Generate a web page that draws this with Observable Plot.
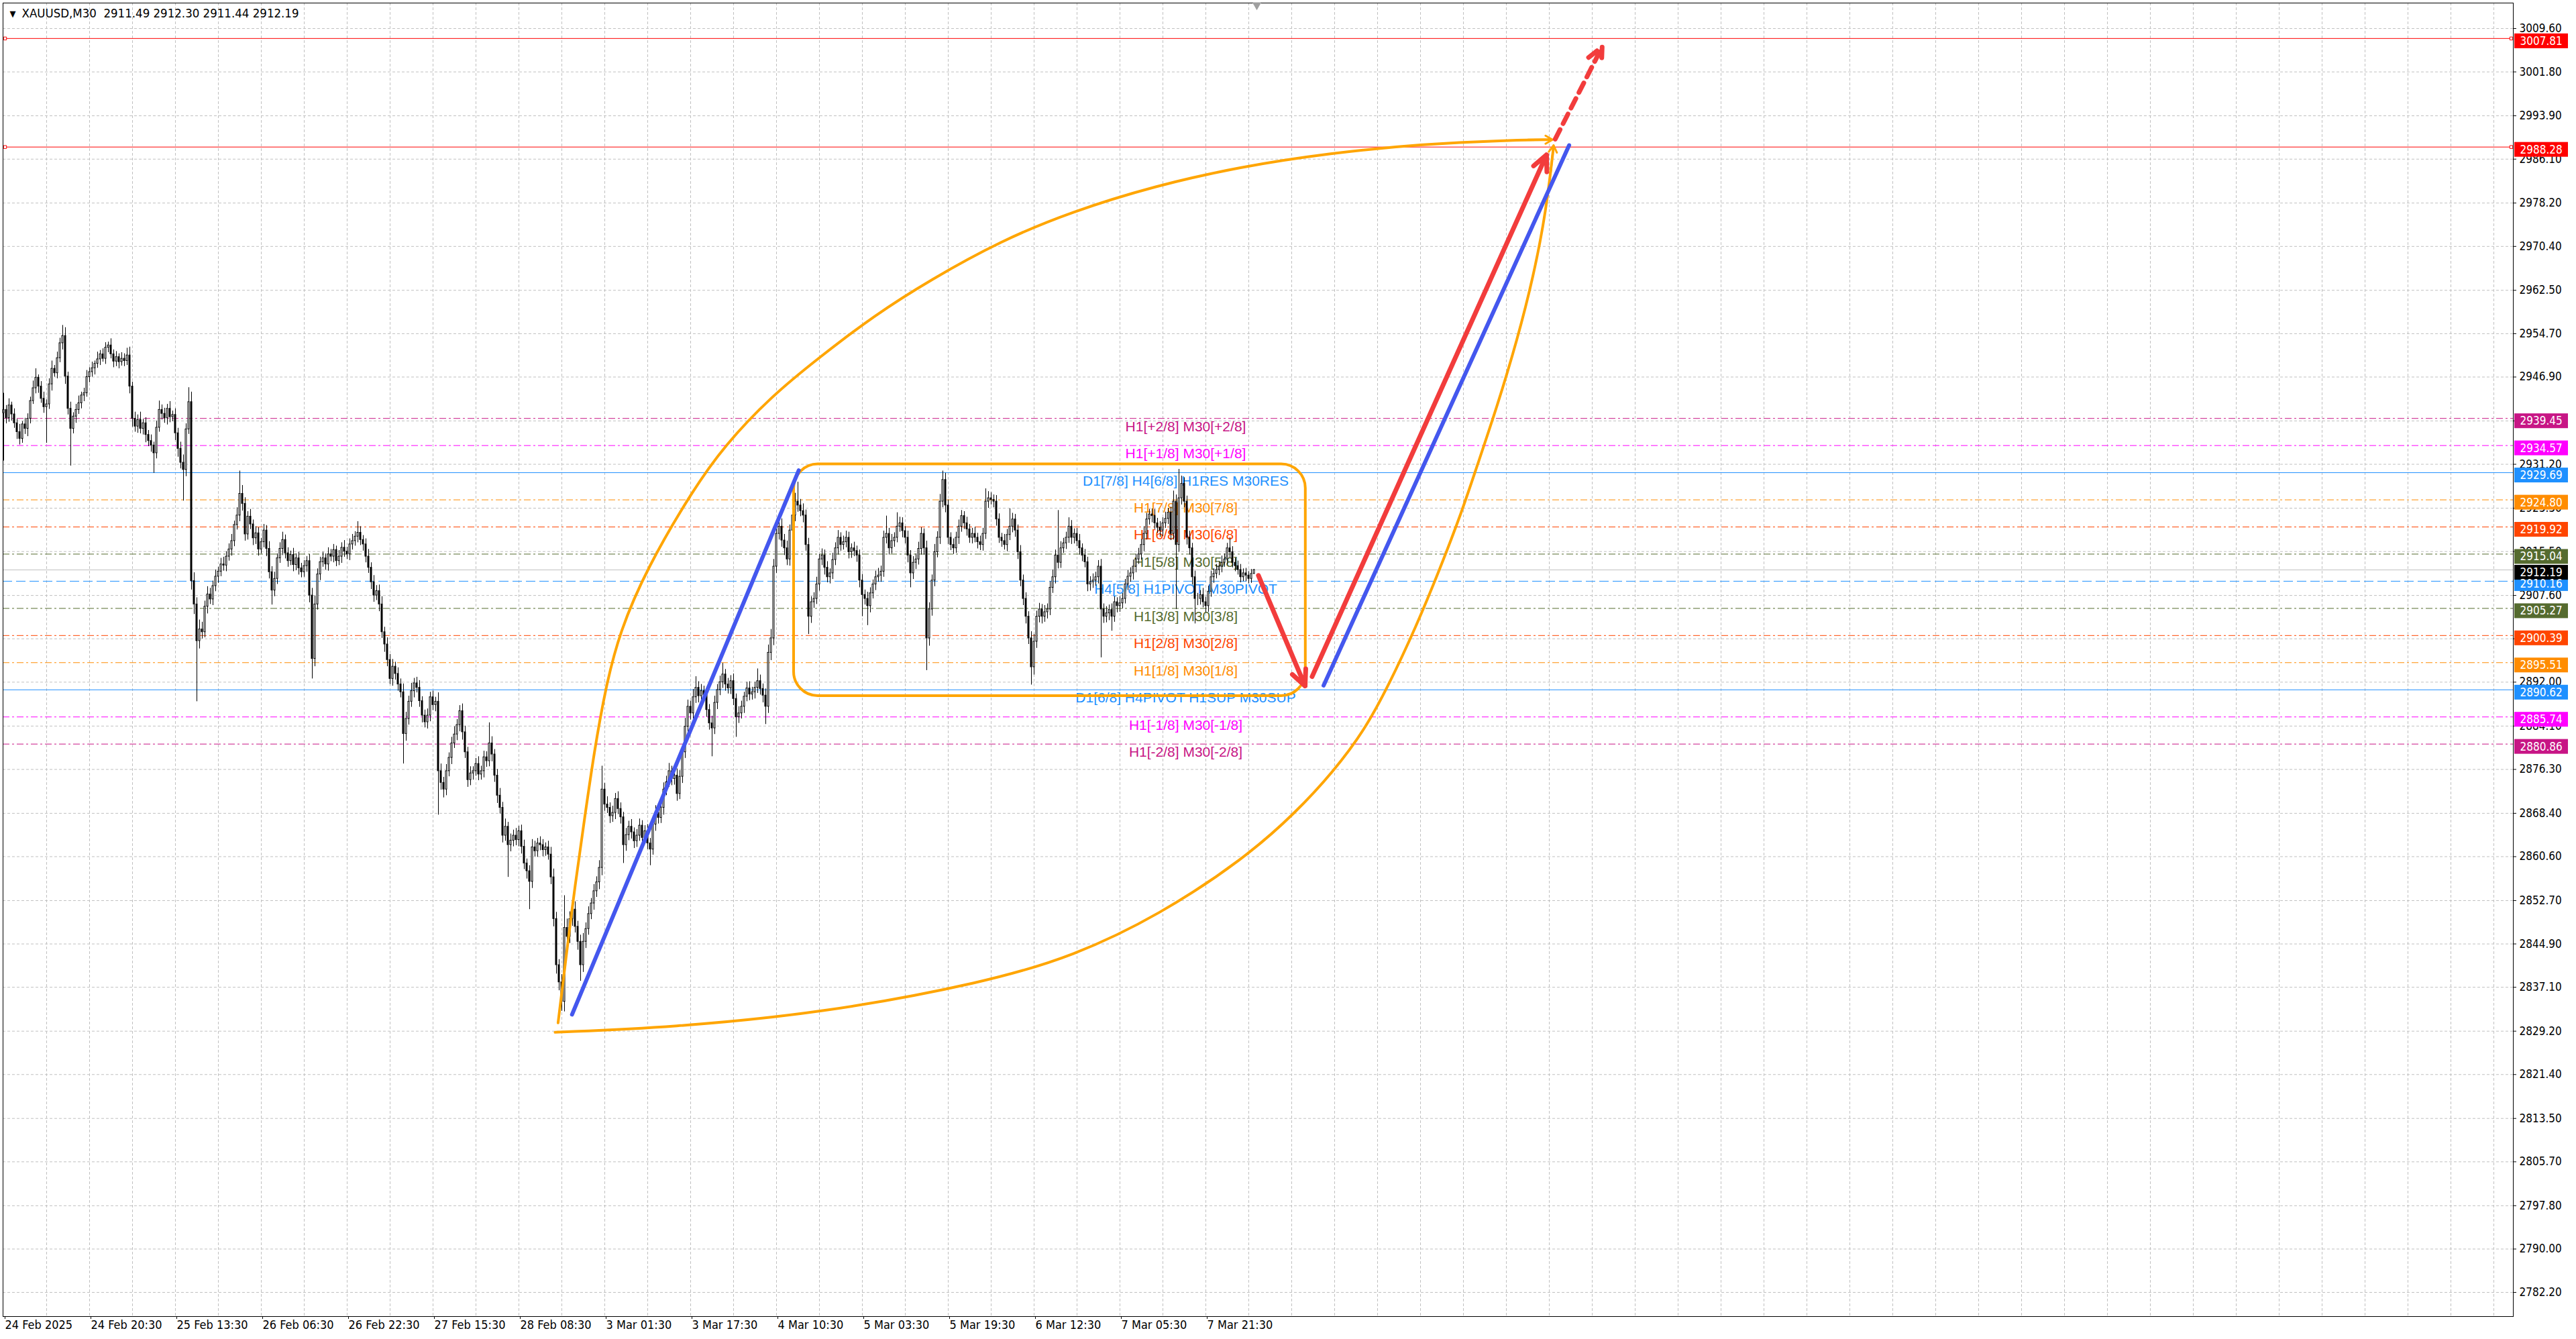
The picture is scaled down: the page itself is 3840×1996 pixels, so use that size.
<!DOCTYPE html>
<html><head><meta charset="utf-8">
<script src="https://cdn.jsdelivr.net/npm/d3@7"></script>
<script src="https://cdn.jsdelivr.net/npm/@observablehq/plot@0.6"></script>
<style>html,body{margin:0;padding:0;background:#fff;overflow:hidden}svg{display:block}</style>
</head><body><div id="chart"></div>
<script>
// ---------- header ----------
const headerSymbol = "XAUUSD,M30";
const headerOHLC = ["2911.49", "2912.30", "2911.44", "2912.19"];

// ---------- candles (M30 bars, index 0 = 24 Feb 2025) ----------
const firstOpen = 2940.4;
const closes = [
2941.0,2939.5,2941.8,2940.2,2938.6,2937.0,2935.8,2938.4,2937.6,2939.4,
2942.6,2944.9,2946.8,2945.2,2943.0,2941.5,2942.0,2945.6,2948.4,2947.6,
2950.3,2953.0,2954.3,2947.0,2941.2,2937.6,2939.8,2941.0,2942.2,2943.6,
2944.0,2946.9,2947.8,2948.5,2949.3,2950.1,2951.0,2950.2,2952.2,2952.6,
2951.0,2949.7,2950.5,2949.6,2950.2,2949.8,2950.8,2945.2,2939.4,2938.0,
2939.2,2937.6,2938.6,2936.5,2935.4,2934.6,2933.2,2937.8,2941.0,2940.3,
2939.5,2941.2,2939.7,2940.1,2936.8,2934.0,2931.5,2930.2,2937.5,2942.4,
2910.2,2906.0,2899.4,2901.5,2901.0,2905.6,2907.8,2906.9,2909.3,2911.0,
2911.9,2913.2,2913.0,2914.6,2915.9,2917.4,2920.3,2922.0,2925.9,2924.1,
2918.6,2921.8,2920.4,2917.9,2918.8,2915.9,2917.2,2919.3,2916.0,2911.8,
2908.5,2910.6,2914.3,2916.0,2917.6,2915.2,2913.8,2914.9,2913.1,2914.3,
2912.5,2911.8,2912.9,2913.8,2907.6,2896.2,2906.0,2911.4,2913.6,2914.3,
2913.2,2915.0,2914.6,2915.8,2913.8,2914.6,2916.2,2915.5,2915.0,2916.8,
2917.4,2918.2,2918.9,2917.6,2916.8,2914.6,2912.6,2910.0,2907.6,2908.4,
2906.0,2901.0,2898.8,2896.0,2892.6,2894.8,2893.5,2891.6,2890.2,2882.7,
2885.4,2888.5,2890.4,2891.8,2891.0,2888.6,2886.0,2884.8,2886.0,2889.3,
2887.9,2888.5,2876.0,2873.9,2872.7,2876.0,2878.4,2881.0,2882.6,2884.3,
2886.8,2883.0,2879.4,2874.4,2875.6,2876.0,2877.3,2875.4,2876.0,2878.5,
2877.8,2881.0,2879.0,2875.2,2871.6,2869.4,2864.4,2866.0,2862.7,2863.5,
2864.4,2863.6,2865.2,2862.4,2859.4,2858.0,2856.1,2862.3,2861.6,2863.0,
2862.7,2861.8,2862.3,2861.0,2856.9,2849.4,2841.1,2838.0,2834.5,2847.8,
2846.2,2849.4,2851.1,2848.0,2845.3,2841.1,2845.3,2847.6,2850.3,2852.2,
2854.4,2856.0,2858.6,2872.7,2870.0,2869.4,2867.9,2868.5,2871.0,2869.2,
2867.7,2862.7,2864.5,2866.0,2865.0,2863.4,2864.4,2866.2,2864.0,2865.2,
2863.0,2861.9,2866.4,2868.5,2867.6,2869.4,2872.7,2874.0,2876.0,2874.6,
2875.2,2871.9,2875.0,2879.4,2884.0,2887.6,2886.4,2889.3,2891.0,2889.5,
2890.4,2889.7,2887.0,2884.6,2883.7,2888.3,2890.6,2892.0,2893.4,2891.6,
2890.9,2892.2,2889.0,2885.7,2886.4,2887.6,2889.4,2890.9,2889.8,2890.2,
2891.0,2892.2,2890.8,2889.6,2887.6,2897.3,2899.9,2912.8,2918.7,2920.0,
2917.5,2916.1,2914.1,2919.3,2922.0,2924.5,2923.8,2922.8,2922.0,2916.7,
2903.8,2906.4,2907.0,2909.6,2914.1,2914.8,2912.6,2910.9,2911.6,2914.0,
2916.1,2918.0,2916.7,2917.2,2918.0,2915.4,2916.1,2915.6,2914.8,2910.3,
2907.7,2907.0,2905.7,2908.0,2909.6,2910.9,2911.2,2911.9,2918.0,2918.7,
2916.1,2917.4,2918.0,2920.0,2920.6,2919.2,2918.0,2914.8,2911.6,2913.5,
2914.1,2916.0,2918.7,2916.1,2899.9,2905.1,2910.3,2915.4,2918.0,2924.5,
2928.4,2923.8,2918.0,2916.7,2916.1,2918.0,2920.0,2921.9,2920.6,2919.5,
2918.0,2918.7,2918.0,2917.2,2916.7,2918.7,2924.5,2925.1,2924.8,2924.5,
2921.3,2918.0,2917.4,2916.7,2918.5,2920.0,2921.3,2919.3,2915.4,2910.3,
2907.0,2903.8,2899.9,2894.7,2899.3,2903.8,2905.1,2903.8,2904.6,2905.1,
2909.0,2910.9,2914.8,2913.5,2916.1,2917.0,2918.0,2920.0,2918.0,2918.7,
2917.4,2916.1,2914.8,2913.6,2909.6,2910.0,2910.3,2910.9,2912.8,2905.1,
2903.8,2904.4,2905.0,2903.8,2906.4,2905.7,2906.2,2907.0,2909.6,2911.0,
2911.6,2912.8,2914.1,2915.0,2916.7,2918.7,2921.3,2922.2,2921.9,2920.6,
2919.8,2919.3,2920.6,2921.4,2922.5,2918.7,2924.5,2916.7,2925.1,2927.7,
2924.5,2918.0,2916.1,2910.9,2907.0,2907.0,2907.7,2906.4,2905.7,2908.3,
2910.9,2911.5,2912.2,2912.8,2913.5,2914.1,2916.1,2915.4,2913.5,2912.9,
2912.2,2910.9,2911.6,2911.2,2910.6,2911.49,2912.19
];
const upperWicks = [
3.0,0.8,1.2,0.6,1.0,0.7,1.4,0.5,1.1,0.9,
0.7,1.3,1.6,0.5,0.9,1.2,0.8,1.0,1.4,0.6,
1.1,0.9,1.9,1.5,0.8,1.2,0.7,1.0,1.3,0.6,
0.9,1.2,0.8,1.1,0.5,1.3,0.7,1.0,0.9,0.6,
1.2,0.8,1.0,0.6,1.1,0.9,1.3,1.5,0.8,1.2,
0.9,1.4,0.7,1.0,0.8,1.1,0.6,1.2,1.6,0.9,
1.0,0.8,1.3,0.7,1.1,0.9,1.2,1.4,1.0,2.6,
1.8,1.5,1.2,1.7,1.3,1.0,1.4,1.1,0.9,1.2,
0.8,1.1,1.3,0.9,1.0,1.2,0.7,1.4,4.1,1.5,
1.1,0.9,1.3,0.8,1.2,1.0,0.7,1.1,0.9,1.3,
1.0,1.2,0.8,1.1,1.4,0.9,1.0,0.7,1.2,0.8,
1.1,0.9,1.0,0.8,1.2,1.3,1.5,1.0,0.9,1.1,
0.8,1.2,0.9,1.0,0.7,1.1,0.9,1.3,0.8,1.0,
1.2,0.9,2.0,1.1,0.8,1.0,1.3,0.9,1.2,1.0,
1.1,1.4,0.9,1.2,1.0,1.3,0.8,1.1,1.0,1.5,
1.2,1.0,1.4,0.9,1.1,1.3,0.8,1.0,1.2,0.9,
1.1,0.8,1.6,1.3,1.0,1.2,0.9,1.1,1.4,1.0,
1.0,1.3,1.1,0.9,1.2,0.8,1.0,1.3,0.9,1.1,
1.0,3.7,1.2,0.9,1.1,1.3,1.0,1.4,0.8,1.2,
1.0,1.3,0.9,1.1,1.2,0.8,1.0,1.4,1.1,0.9,
1.2,1.0,0.8,1.1,1.3,1.5,1.2,1.0,1.4,5.8,
1.6,1.3,1.1,1.4,1.0,1.2,1.5,1.1,1.3,0.9,
1.2,1.0,1.3,4.2,1.1,1.4,0.9,1.2,1.0,1.3,
1.1,0.9,1.2,1.0,1.3,0.8,1.1,1.2,0.9,1.0,
1.2,0.9,1.1,1.3,1.0,0.8,1.2,1.1,1.4,0.9,
1.0,1.2,1.1,1.3,1.5,1.2,1.0,1.4,2.0,1.1,
1.2,0.9,1.1,1.0,1.3,1.2,1.0,1.1,2.0,0.9,
1.1,1.0,1.3,0.9,1.2,1.0,0.8,1.1,1.2,0.9,
1.0,2.2,1.1,0.9,1.2,1.4,1.6,1.3,1.5,1.2,
1.4,1.1,1.3,1.0,1.2,1.5,3.5,1.1,1.3,1.0,
1.2,1.0,1.1,1.3,0.9,1.2,1.0,1.1,0.8,1.2,
1.0,1.3,0.9,1.1,1.2,1.0,0.8,1.1,0.9,1.0,
1.1,0.9,1.2,1.0,0.8,1.1,1.3,1.0,1.2,3.2,
1.0,1.2,0.9,2.5,1.1,1.0,0.8,1.2,0.9,1.1,
1.0,1.2,1.1,0.9,1.3,1.2,1.0,1.4,1.1,1.3,
1.6,1.2,1.0,0.9,1.1,1.0,1.2,1.0,0.8,1.1,
0.9,1.0,1.2,0.8,1.1,1.0,2.3,1.2,1.0,0.9,
1.1,1.0,0.8,1.2,1.0,3.2,1.1,0.9,1.0,1.2,
1.0,1.1,0.9,1.2,1.3,1.0,1.1,0.9,1.2,1.0,
1.1,1.3,1.0,8.1,1.2,0.9,1.0,1.6,1.1,0.9,
1.0,1.2,0.8,1.1,0.9,1.0,1.2,0.9,1.1,1.3,
1.0,1.2,0.9,1.1,1.0,0.8,1.2,1.0,0.9,1.1,
1.0,1.2,0.9,1.1,1.0,1.3,1.1,0.9,1.0,1.2,
0.9,1.1,1.0,1.2,0.8,1.0,1.9,1.2,5.2,1.4,
1.1,1.0,1.2,0.9,1.1,1.0,0.8,1.2,0.9,1.0,
1.1,0.9,1.0,0.8,1.2,1.0,0.9,1.9,1.0,0.8,
0.9,1.0,0.8,0.9,0.7,0.8,0.11
];
const lowerWicks = [
8.6,1.0,0.7,1.2,0.9,1.3,1.1,0.8,1.0,1.4,
0.9,0.6,1.0,1.2,0.8,1.1,6.5,0.9,1.2,0.7,
1.0,0.8,1.2,1.4,1.1,6.7,0.9,1.2,0.8,1.0,
1.1,0.7,1.0,0.9,1.2,0.8,1.1,0.6,1.0,0.9,
0.8,1.1,0.9,1.2,0.7,1.0,0.8,1.3,1.5,1.0,
1.2,0.9,1.1,1.4,1.0,1.2,3.6,1.0,0.8,1.1,
0.9,1.2,1.0,0.8,1.3,1.5,1.1,5.6,1.2,0.9,
1.6,1.8,10.9,1.4,1.2,1.0,1.3,0.9,1.1,1.0,
1.2,0.9,1.0,1.1,0.8,1.2,1.0,0.9,1.1,1.3,
1.2,1.0,0.9,1.3,1.1,1.2,0.8,1.0,1.4,1.2,
2.6,1.1,1.0,0.9,1.2,1.0,1.1,0.8,1.2,1.0,
1.2,1.0,0.9,1.1,1.3,3.6,1.4,1.0,1.1,0.9,
1.0,1.2,0.9,1.1,1.0,0.8,1.2,1.0,0.9,1.1,
1.0,0.9,1.1,1.0,1.2,1.1,1.0,1.3,1.2,0.9,
1.3,1.1,1.4,1.2,1.0,1.3,1.1,1.2,1.0,5.4,
1.3,1.1,1.0,1.2,0.9,1.1,1.3,1.0,1.2,1.1,
1.0,1.2,7.9,1.3,1.5,1.1,1.0,1.2,0.9,1.1,
1.2,1.4,1.1,1.3,1.0,1.2,0.9,1.1,1.0,1.2,
1.1,1.0,1.3,1.2,1.4,1.1,1.3,1.0,5.8,1.2,
1.1,1.0,1.2,1.3,1.1,1.4,5.0,1.2,1.0,1.1,
1.0,1.2,1.1,1.0,1.3,1.4,1.6,1.5,1.7,1.8,
1.4,1.2,1.3,1.1,1.5,2.9,1.3,1.2,1.1,1.0,
1.2,1.1,1.3,1.4,1.2,1.0,1.3,1.1,1.2,1.0,
1.2,3.3,1.1,1.0,1.2,1.3,1.1,1.0,1.2,0.9,
1.1,2.9,1.0,1.2,1.1,1.0,1.3,1.1,0.9,1.2,
1.1,1.3,1.0,1.2,1.1,1.3,1.2,1.0,1.1,1.2,
1.1,1.0,1.3,1.2,5.1,1.1,1.2,1.0,1.1,1.2,
1.0,1.1,1.2,3.6,1.1,1.0,1.2,0.9,1.1,1.0,
1.2,1.0,1.1,1.3,3.2,1.2,1.4,1.3,1.2,1.1,
1.2,1.3,1.1,1.2,1.0,1.1,1.2,1.0,1.3,1.1,
3.2,1.2,1.1,1.0,1.2,1.1,1.3,1.0,1.2,1.1,
1.0,1.2,1.1,0.9,1.0,1.2,1.1,1.0,1.2,1.3,
3.9,1.1,3.5,1.2,1.0,1.1,0.9,1.2,1.0,1.1,
1.2,1.0,1.1,0.9,1.0,1.2,1.1,1.3,2.6,1.1,
1.2,1.0,1.1,1.2,5.8,1.4,1.2,1.1,1.0,1.2,
1.1,1.3,1.2,1.0,1.1,0.9,1.2,1.0,1.1,1.2,
1.0,1.1,0.9,1.2,1.0,1.1,1.0,1.2,0.9,1.1,
1.2,1.0,1.1,0.9,1.2,1.0,1.1,1.2,1.3,1.1,
1.2,1.3,1.1,3.2,1.4,1.2,1.1,1.3,1.0,1.2,
1.1,1.0,1.2,1.1,1.0,0.9,1.1,1.0,1.2,1.1,
1.0,1.2,1.1,1.0,1.3,1.2,1.1,1.0,1.2,8.7,
1.2,1.1,1.3,2.6,1.0,1.2,1.1,1.0,0.9,1.1,
1.0,1.2,1.1,0.9,1.0,1.2,1.1,1.0,1.2,1.1,
1.0,1.2,1.1,0.9,1.0,1.2,1.1,11.6,1.3,1.2,
1.1,1.3,1.2,1.4,4.5,1.2,1.1,1.0,1.2,1.1,
1.0,1.1,0.9,1.0,1.1,0.8,1.0,1.1,0.9,1.0,
0.9,1.0,0.8,1.1,0.9,0.8,0.05
];

// ---------- axes ----------
const xTickBars = [0,32,64,96,128,160,192,224,256,288,320,352,384,416,448];
const xTickLabels = ["24 Feb 2025","24 Feb 20:30","25 Feb 13:30","26 Feb 06:30","26 Feb 22:30","27 Feb 15:30","28 Feb 08:30","3 Mar 01:30","3 Mar 17:30","4 Mar 10:30","5 Mar 03:30","5 Mar 19:30","6 Mar 12:30","7 Mar 05:30","7 Mar 21:30"];
const yTicks = [3009.6,3001.8,2993.9,2986.1,2978.2,2970.4,2962.5,2954.7,2946.9,2939.0,2931.2,2923.3,2915.5,2907.6,2899.8,2892.0,2884.1,2876.3,2868.4,2860.6,2852.7,2844.9,2837.1,2829.2,2821.4,2813.5,2805.7,2797.8,2790.0,2782.2];

// ---------- horizontal levels ----------
const levelPrices = [3007.81,2988.28,2939.45,2934.57,2929.69,2924.80,2919.92,2915.04,2910.16,2905.27,2900.39,2895.51,2890.62,2885.74,2880.86];
const levelLabels = ["","","H1[+2/8] M30[+2/8]","H1[+1/8] M30[+1/8]","D1[7/8] H4[6/8] H1RES M30RES","H1[7/8] M30[7/8]","H1[6/8] M30[6/8]","H1[5/8] M30[5/8]","H4[5/8] H1PIVOT M30PIVOT","H1[3/8] M30[3/8]","H1[2/8] M30[2/8]","H1[1/8] M30[1/8]","D1[6/8] H4PIVOT H1SUP M30SUP","H1[-1/8] M30[-1/8]","H1[-2/8] M30[-2/8]"];
const levelColors = ["#FF0000","#FF0000","#C71585","#FF00FF","#1E90FF","#FF8C00","#FF4500","#556B2F","#1E90FF","#556B2F","#FF4500","#FF8C00","#1E90FF","#FF00FF","#C71585"];
const levelStyles = ["solid","solid","dashdot","dashdot","solid","dashdot","dashdot","dashdot","dash","dashdot","dashdot","dashdot","solid","dashdot","dashdot"];
const labelBar = 440.5;            // time anchor of the level texts
const endMarkerPrices = [3007.81, 2988.28];
const currentPrice = 2912.19;
const shiftMarkerBar = [467];      // chart-shift marker on the top edge

// ---------- drawn objects ----------
const rangeBox = {x1: 294.5, x2: 485.2, y1: 2889.5, y2: 2931.2};
const upperArc = [[206.6,2830.7],[209.7,2843.0],[212.9,2855.4],[216.55,2867.7],[220.0,2879.3],[224.3,2891.0],[229.5,2901.0],[239.8,2912.6],[257.0,2926.7],[268.7,2934.6],[286.0,2943.4],[303.6,2950.3],[324.5,2958.0],[345.4,2964.4],[371.6,2971.4],[397.7,2976.6],[429.1,2981.3],[460.5,2984.7],[494.5,2987.2],[528.5,2988.8],[559.9,2989.5],[576.9,2989.6]];
const lowerArc = [[205.5,2829.0],[248.75,2829.9],[304.75,2832.4],[366.0,2838.0],[398.75,2842.7],[430.65,2850.1],[462.5,2860.3],[481.65,2868.6],[495.7,2876.0],[507.2,2883.4],[516.1,2891.4],[526.3,2901.9],[535.2,2912.3],[543.5,2922.8],[548.6,2930.2],[556.7,2941.8],[564.0,2953.5],[570.15,2965.1],[574.8,2976.7],[577.6,2988.4]];
const arcHeads = [{x1:568.0,y1:2989.6,x2:577.2,y2:2989.6},{x1:576.5,y1:2983.6,x2:577.6,y2:2988.6}];
const blueLines = [{x1:211.8,y1:2832.2,x2:296.3,y2:2930.1},{x1:491.9,y1:2891.4,x2:583.4,y2:2988.6}];
const redArrows = [{x1:467.6,y1:2911.2,x2:485.0,y2:2891.3},{x1:487.6,y1:2893.0,x2:575.0,y2:2986.9}];
const redDashedArrow = [{x1:578.2,y1:2989.7,x2:595.7,y2:3006.3}];

// ---------- build ----------
const candles = closes.map((c, i) => {
  const o = i === 0 ? firstOpen : closes[i - 1];
  return {i, o, c, h: Math.max(o, c) + upperWicks[i], l: Math.min(o, c) - lowerWicks[i]};
});
const levels = levelPrices.map((p, i) => ({p, label: levelLabels[i], color: levelColors[i], style: levelStyles[i]}));
const tags = levels.map(d => ({p: d.p, color: d.color})).concat([{p: currentPrice, color: "#000000"}]);

const xDomain = [-0.25, 935.25];
const yDomain = [2777.86, 3014.19];
const axisFont = "'DejaVu Sans Condensed', 'DejaVu Sans', sans-serif";
const labelFont = "'Liberation Sans', Arial, sans-serif";
const grid = {stroke: "#c0c0c0", strokeOpacity: 1, strokeDasharray: "4,3", strokeWidth: 1};
const dashFor = {solid: null, dashdot: "10,4,3,4", dash: "14,6"};

const marks = [
  Plot.gridY(yTicks, grid),
  Plot.gridX(d3.range(16, 936, 16), grid),
  Plot.ruleY([currentPrice], {stroke: "#c0c0c0", strokeWidth: 1})
];
for (const s of ["solid", "dashdot", "dash"]) {
  const opts = {y: "p", stroke: "color", strokeWidth: 1};
  if (dashFor[s]) opts.strokeDasharray = dashFor[s];
  marks.push(Plot.ruleY(levels.filter(d => d.style === s), opts));
}
marks.push(
  Plot.dot(endMarkerPrices, {y: d => d, frameAnchor: "left", dx: 3, symbol: "square", r: 2.5, stroke: "#FF0000", fill: "white", strokeWidth: 1}),
  Plot.dot(endMarkerPrices, {y: d => d, frameAnchor: "right", dx: -3, symbol: "square", r: 2.5, stroke: "#FF0000", fill: "white", strokeWidth: 1}),
  Plot.text(levels.filter(d => d.label), {x: () => labelBar, y: "p", text: "label", fill: "color", fontSize: 21, fontFamily: labelFont, textAnchor: "middle", lineAnchor: "top", dy: 4}),
  Plot.ruleX(candles, {x: "i", y1: "l", y2: "h", stroke: "black", strokeWidth: 1}),
  Plot.rect(candles, {x1: d => d.i - 0.25, x2: d => d.i + 0.25, y1: "o", y2: "c", fill: d => d.c >= d.o ? "white" : "black", stroke: "black", strokeWidth: 1}),
  Plot.rect([rangeBox], {x1: "x1", x2: "x2", y1: "y1", y2: "y2", rx: 36, fill: "none", stroke: "#FFA500", strokeWidth: 4}),
  Plot.line(upperArc, {x: d => d[0], y: d => d[1], curve: "basis", stroke: "#FFA500", strokeWidth: 4}),
  Plot.line(lowerArc, {x: d => d[0], y: d => d[1], curve: "basis", stroke: "#FFA500", strokeWidth: 4}),
  Plot.arrow(arcHeads, {x1: "x1", y1: "y1", x2: "x2", y2: "y2", stroke: "#FFA500", strokeWidth: 3, headLength: 6, headAngle: 60}),
  Plot.link(blueLines, {x1: "x1", y1: "y1", x2: "x2", y2: "y2", stroke: "#4457EE", strokeWidth: 6, strokeLinecap: "round"}),
  Plot.arrow(redArrows, {x1: "x1", y1: "y1", x2: "x2", y2: "y2", stroke: "#F23C3C", strokeWidth: 7, headLength: 5.5, headAngle: 50, strokeLinecap: "round"}),
  Plot.arrow(redDashedArrow, {x1: "x1", y1: "y1", x2: "x2", y2: "y2", stroke: "#F23C3C", strokeWidth: 7, headLength: 5.5, headAngle: 50, strokeDasharray: "16,10"}),
  Plot.frame({stroke: "black", strokeWidth: 1}),
  Plot.dot(shiftMarkerBar, {x: d => d, frameAnchor: "top", dy: 3, symbol: "triangle", rotate: 180, r: 5, fill: "#a0a0a0", stroke: "none"}),
  Plot.axisY(yTicks, {anchor: "right", tickSize: 4, tickPadding: 5, tickFormat: d => d.toFixed(2), fontSize: 17, fontFamily: axisFont}),
  Plot.axisX(xTickBars, {anchor: "bottom", tickSize: 4, tickPadding: 2, tickFormat: d => xTickLabels[xTickBars.indexOf(d)], textAnchor: "start", dx: 2, fontSize: 18, fontFamily: axisFont}),
  Plot.rect(tags, {x1: () => xDomain[1], x2: () => xDomain[1], y1: "p", y2: "p", insetLeft: 2, insetRight: -82, insetTop: -7, insetBottom: -15, fill: "color"}),
  Plot.text(tags, {y: "p", frameAnchor: "right", dx: 10, dy: 4, textAnchor: "start", text: d => d.p.toFixed(2), fill: "white", fontSize: 17, fontFamily: axisFont}),
  Plot.text(["\u25BC"], {frameAnchor: "top-left", dx: 10, dy: 16, textAnchor: "start", lineAnchor: "middle", fontSize: 13, fill: "black"}),
  Plot.text([headerSymbol + "\u00A0\u00A0" + headerOHLC.join(" ")], {frameAnchor: "top-left", dx: 28, dy: 16, textAnchor: "start", lineAnchor: "middle", fontSize: 18.5, fontFamily: axisFont, fill: "black"})
);

const chart = Plot.plot({
  width: 3840, height: 1996,
  marginLeft: 4, marginRight: 94, marginTop: 4, marginBottom: 34,
  x: {domain: xDomain, axis: null},
  y: {domain: yDomain, axis: null},
  color: {type: "identity"},
  style: {background: "#fff", color: "black", fontFamily: axisFont, overflow: "visible"},
  marks
});
document.getElementById("chart").appendChild(chart);
</script>
</body></html>
